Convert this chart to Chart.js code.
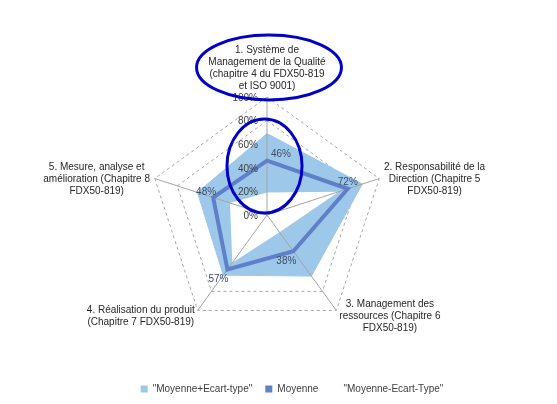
<!DOCTYPE html>
<html>
<head>
<meta charset="utf-8">
<script src="https://cdn.jsdelivr.net/npm/chart.js@4.4.0/dist/chart.umd.min.js"></script>
<style>
  html, body { margin: 0; padding: 0; background: #fff; }
  .chart-container { position: relative; width: 557px; height: 404px; }
</style>
</head>
<body>
<div class="chart-container"><canvas id="radar"></canvas></div>
<script>
const categories = [
  ['1. Système de', 'Management de la Qualité', '(chapitre 4 du FDX50-819', 'et ISO 9001)'],
  ['2. Responsabilité de la', 'Direction (Chapitre 5', 'FDX50-819)'],
  ['3. Management des', 'ressources (Chapitre 6', 'FDX50-819)'],
  ['4. Réalisation du produit', '(Chapitre 7 FDX50-819)'],
  ['5. Mesure, analyse et', 'amélioration (Chapitre 8', 'FDX50-819)']
];
const seriesNames = ['"Moyenne+Ecart-type"', 'Moyenne', '"Moyenne-Ecart-Type"'];
const moyennePlusEcart = [69, 85, 64, 63, 62];
const moyenne = [46, 72, 38, 57, 48];
const moyenneMoinsEcart = [19, 64, 18, 50, 33];
const tickValues = [0, 20, 40, 60, 80, 100];
const tickLabels = ['0%', '20%', '40%', '60%', '80%', '100%'];

const FONT = '"Liberation Sans", Arial, sans-serif';
const LIGHT_BLUE = '#9ec8e9';
const LINE_BLUE = '#5f80c8';

Chart.defaults.font.family = FONT;
Chart.defaults.font.size = 10;
Chart.defaults.color = '#404040';

// nudges (px) for the "Moyenne" value labels, relative to their point
const valueLabelOffsets = [[14, -6], [0, -6], [-7, 10], [-9, 10], [-7, -5]];

// hand-drawn highlight ellipses: centre on axis 1 at a value, sizes in radius units
const highlights = [
  { value: 125, dx: 2, rx: 0.614, ry: 0.275 },
  { value: 41.5, dx: -2.5, rx: 0.318, ry: 0.398 }
];

const overlay = {
  id: 'overlay',
  afterDatasetDraw(chart, args) {
    // spokes sit over both filled areas but under the Moyenne line
    if (args.index !== 2) return;
    const r = chart.scales.r;
    const ctx = chart.ctx;
    ctx.save();
    ctx.strokeStyle = '#a3a3a3';
    ctx.lineWidth = 1;
    ctx.beginPath();
    categories.forEach((_, i) => {
      const p = r.getPointPositionForValue(i, r.max);
      ctx.moveTo(r.xCenter, r.yCenter);
      ctx.lineTo(p.x, p.y);
    });
    ctx.stroke();
    ctx.restore();
  },
  afterDatasetsDraw(chart) {
    const r = chart.scales.r;
    const ctx = chart.ctx;
    ctx.save();
    ctx.font = '10px ' + FONT;
    ctx.textBaseline = 'middle';

    // axis ticks, to the left of the first spoke
    ctx.fillStyle = '#404040';
    ctx.textAlign = 'right';
    tickValues.forEach((v, i) => {
      ctx.fillText(tickLabels[i], r.xCenter - 9, r.yCenter - r.getDistanceFromCenterForValue(v) + 1);
    });

    // value labels of the Moyenne series
    ctx.fillStyle = '#3d4b6b';
    ctx.textAlign = 'center';
    chart.getDatasetMeta(1).data.forEach((pt, i) => {
      const [dx, dy] = valueLabelOffsets[i];
      ctx.fillText(moyenne[i] + '%', pt.x + dx, pt.y + dy);
    });

    // category labels with centred lines
    ctx.fillStyle = '#262626';
    const lh = 12;
    categories.forEach((lines, i) => {
      const a = r.getPointPosition(i, r.drawingArea + 5);
      const w = Math.max(...lines.map(l => ctx.measureText(l).width));
      const h = lines.length * lh;
      let cx, top;
      if (i === 0) {
        cx = a.x;
        top = a.y - h;
      } else {
        cx = a.x < r.xCenter ? a.x - w / 2 : a.x + w / 2;
        top = a.y - h / 2 + 2;
      }
      lines.forEach((l, k) => ctx.fillText(l, cx, top + lh * k + lh / 2));
    });
    ctx.restore();
  },
  afterDraw(chart) {
    const r = chart.scales.r;
    const ctx = chart.ctx;
    ctx.save();
    ctx.strokeStyle = '#0000c8';
    ctx.lineWidth = 3;
    highlights.forEach(e => {
      const c = r.getPointPositionForValue(0, e.value);
      ctx.beginPath();
      ctx.ellipse(c.x + e.dx, c.y, e.rx * r.drawingArea, e.ry * r.drawingArea, 0, 0, Math.PI * 2);
      ctx.stroke();
    });
    ctx.restore();
  }
};

new Chart(document.getElementById('radar'), {
  type: 'radar',
  data: {
    labels: categories,
    datasets: [{
      label: seriesNames[0],
      data: moyennePlusEcart,
      backgroundColor: LIGHT_BLUE,
      borderColor: LIGHT_BLUE,
      borderWidth: 1,
      fill: 'origin',
      pointRadius: 0,
      order: 3
    }, {
      label: seriesNames[1],
      data: moyenne,
      backgroundColor: LINE_BLUE,
      borderColor: LINE_BLUE,
      borderWidth: 4,
      fill: false,
      pointRadius: 0,
      order: 1
    }, {
      label: seriesNames[2],
      data: moyenneMoinsEcart,
      backgroundColor: '#ffffff',
      borderColor: '#ffffff',
      borderWidth: 0,
      fill: 'origin',
      pointRadius: 0,
      order: 2
    }]
  },
  options: {
    responsive: true,
    maintainAspectRatio: false,
    animation: false,
    layout: { padding: { top: 97, left: 27 } },
    scales: {
      r: {
        min: 0,
        max: 100,
        ticks: { display: false, stepSize: 20 },
        pointLabels: { display: false },
        angleLines: { display: false },
        grid: { color: '#a6a6a6', lineWidth: 1 },
        border: { dash: [3, 3] }
      }
    },
    plugins: {
      legend: {
        position: 'bottom',
        weight: 3000,
        labels: {
          boxWidth: 7,
          boxHeight: 7,
          padding: 13,
          color: '#404040',
          font: { size: 10 },
          sort: (a, b) => a.datasetIndex - b.datasetIndex,
          generateLabels(chart) {
            const items = Chart.defaults.plugins.legend.labels.generateLabels(chart);
            items.forEach(it => { it.lineWidth = 0; });
            return items;
          }
        }
      },
      // empty titles used only as spacers between plot, legend and right edge
      title: { display: true, text: '', position: 'bottom', padding: { top: 0, bottom: 26 }, font: { size: 10, lineHeight: 1.2 } },
      subtitle: { display: true, text: '', position: 'right', fullSize: false, padding: { top: 0, bottom: 38 }, font: { size: 10, lineHeight: 1.2 } },
      tooltip: { enabled: false }
    }
  },
  plugins: [overlay]
});
</script>
</body>
</html>
